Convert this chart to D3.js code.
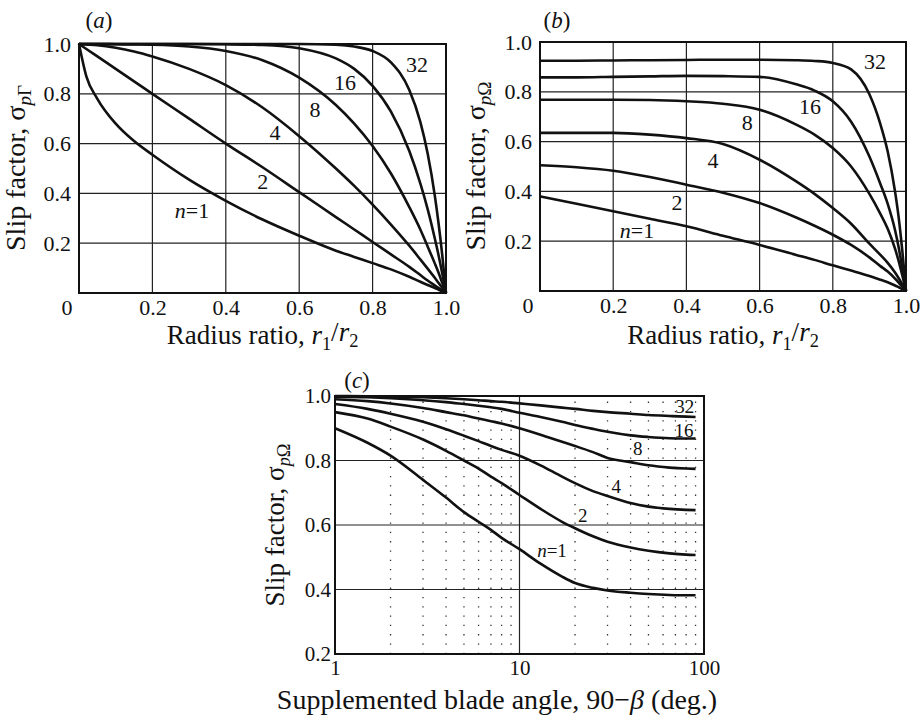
<!DOCTYPE html>
<html>
<head>
<meta charset="utf-8">
<script src="https://cdn.jsdelivr.net/npm/d3@7"></script>
<style>
  body { margin: 0; background: #fff; }
  svg { display: block; }
  text { font-family: "Liberation Serif", "Times New Roman", serif; fill: #111; }
</style>
</head>
<body>
<div id="chart"></div>
<script>
// blade counts
const nLabels = ["n=1", "2", "4", "8", "16", "32"];

// (a) slip factor sigma_pGamma vs radius ratio
const aX = [0, 0.02, 0.05, 0.1, 0.15, 0.2, 0.3, 0.4, 0.5, 0.6, 0.7, 0.75, 0.8, 0.85, 0.9, 0.93, 0.95, 0.97, 0.98, 0.99, 1.0];
const aN1 = [1, 0.87, 0.78, 0.68, 0.61, 0.555, 0.455, 0.37, 0.295, 0.23, 0.17, 0.145, 0.12, 0.095, 0.065, 0.045, 0.032, 0.02, 0.013, 0.006, 0];
const aN2 = [1, 0.98, 0.95, 0.9, 0.85, 0.8, 0.7, 0.6, 0.505, 0.405, 0.305, 0.255, 0.205, 0.155, 0.105, 0.072, 0.05, 0.03, 0.02, 0.01, 0];
const aN4 = [1, 0.998, 0.995, 0.985, 0.97, 0.95, 0.9, 0.835, 0.745, 0.63, 0.5, 0.43, 0.355, 0.275, 0.19, 0.135, 0.098, 0.06, 0.04, 0.02, 0];
const aN8 = [1, 1, 1, 0.999, 0.998, 0.997, 0.99, 0.972, 0.935, 0.865, 0.755, 0.68, 0.59, 0.48, 0.345, 0.255, 0.187, 0.117, 0.08, 0.04, 0];
const aN16 = [1, 1, 1, 1, 1, 1, 1, 0.999, 0.996, 0.983, 0.942, 0.9, 0.832, 0.728, 0.57, 0.44, 0.337, 0.216, 0.15, 0.077, 0];
const aN32 = [1, 1, 1, 1, 1, 1, 1, 1, 1, 1, 0.997, 0.99, 0.972, 0.926, 0.815, 0.687, 0.56, 0.386, 0.276, 0.149, 0];

// (b) slip factor sigma_pOmega vs radius ratio
const bX = [0, 0.1, 0.2, 0.3, 0.4, 0.5, 0.6, 0.7, 0.75, 0.8, 0.85, 0.9, 0.93, 0.95, 0.97, 0.98, 0.99, 1.0];
const bN1 = [0.38, 0.35, 0.32, 0.29, 0.26, 0.222, 0.185, 0.145, 0.125, 0.103, 0.082, 0.06, 0.045, 0.035, 0.022, 0.015, 0.008, 0];
const bN2 = [0.505, 0.497, 0.483, 0.458, 0.427, 0.395, 0.353, 0.295, 0.262, 0.226, 0.185, 0.135, 0.1, 0.078, 0.05, 0.034, 0.017, 0];
const bN4 = [0.635, 0.635, 0.635, 0.628, 0.614, 0.59, 0.527, 0.44, 0.39, 0.333, 0.27, 0.19, 0.145, 0.113, 0.074, 0.051, 0.026, 0];
const bN8 = [0.768, 0.768, 0.768, 0.767, 0.762, 0.752, 0.728, 0.668, 0.628, 0.574, 0.5, 0.39, 0.31, 0.25, 0.17, 0.12, 0.062, 0];
const bN16 = [0.858, 0.858, 0.86, 0.862, 0.864, 0.863, 0.86, 0.83, 0.805, 0.762, 0.68, 0.54, 0.43, 0.35, 0.245, 0.175, 0.09, 0];
const bN32 = [0.925, 0.925, 0.926, 0.927, 0.928, 0.929, 0.929, 0.927, 0.924, 0.916, 0.89, 0.79, 0.67, 0.56, 0.4, 0.295, 0.16, 0];

// (c) slip factor vs supplemented blade angle (deg)
const cX = [1, 1.5, 2, 3, 4, 5, 6, 7, 8, 10, 13, 17, 20, 25, 30, 40, 50, 65, 80, 90];
const cN1 = [0.9, 0.855, 0.815, 0.74, 0.685, 0.64, 0.61, 0.585, 0.56, 0.525, 0.48, 0.44, 0.42, 0.405, 0.397, 0.39, 0.386, 0.383, 0.382, 0.382];
const cN2 = [0.95, 0.93, 0.905, 0.865, 0.83, 0.8, 0.775, 0.75, 0.73, 0.693, 0.65, 0.61, 0.59, 0.565, 0.548, 0.53, 0.52, 0.512, 0.508, 0.507];
const cN4 = [0.975, 0.96, 0.945, 0.92, 0.897, 0.877, 0.86, 0.845, 0.833, 0.815, 0.785, 0.75, 0.73, 0.705, 0.69, 0.668, 0.657, 0.65, 0.647, 0.646];
const cN8 = [0.99, 0.984, 0.977, 0.963, 0.95, 0.94, 0.93, 0.922, 0.915, 0.9, 0.88, 0.858, 0.845, 0.826, 0.808, 0.795, 0.785, 0.778, 0.775, 0.774];
const cN16 = [0.998, 0.996, 0.993, 0.987, 0.981, 0.975, 0.97, 0.965, 0.96, 0.948, 0.935, 0.92, 0.91, 0.898, 0.889, 0.878, 0.873, 0.869, 0.868, 0.868];
const cN32 = [1, 0.999, 0.998, 0.996, 0.993, 0.99, 0.987, 0.984, 0.982, 0.977, 0.971, 0.964, 0.96, 0.954, 0.95, 0.945, 0.941, 0.938, 0.936, 0.935];

// ticks
const linTicks = [0.2, 0.4, 0.6, 0.8, 1.0];
const cXTicks = [1, 10, 100];
const cYTicks = [0.2, 0.4, 0.6, 0.8, 1.0];
const cMinor = [2, 3, 4, 5, 6, 7, 8, 9, 20, 30, 40, 50, 60, 70, 80, 90];

// where the curve labels sit (data coords)
const aLabelPos = [[0.308, 0.333], [0.501, 0.446], [0.534, 0.643], [0.643, 0.735], [0.725, 0.847], [0.921, 0.916]];
const bLabelPos = [[0.265, 0.245], [0.374, 0.357], [0.473, 0.526], [0.566, 0.675], [0.738, 0.739], [0.915, 0.92]];
const cLabelPos = [[15, 0.522], [22, 0.631], [33.5, 0.719], [43.7, 0.836], [78, 0.893], [78.7, 0.966]];

const W = 921, H = 719;
const svg = d3.select("#chart").append("svg")
    .attr("width", W)
    .attr("height", H);

const fmt = d3.format(".1f");

function addSub(sel, main, sub1, sub2) {
    sel.append("tspan").text(main);
    sel.append("tspan").attr("font-size", "0.68em").attr("font-style", "italic").attr("dy", "0.3em").text(sub1);
    sel.append("tspan").attr("font-size", "0.68em").text(sub2);
}

function drawPanel(opt) {
    const x = opt.x, y = opt.y;
    const g = svg.append("g");
    const [x0, x1] = x.range();
    const [y0, y1] = y.range();

    // grid
    g.selectAll(".vg").data(opt.vgrid).enter().append("line")
        .attr("x1", d => x(d)).attr("x2", d => x(d))
        .attr("y1", y0).attr("y2", y1)
        .attr("stroke", "#222").attr("stroke-width", 1.2);
    g.selectAll(".hg").data(opt.hgrid).enter().append("line")
        .attr("x1", x0).attr("x2", x1)
        .attr("y1", d => y(d)).attr("y2", d => y(d))
        .attr("stroke", "#222").attr("stroke-width", 1.2);
    if (opt.minor) {
        g.selectAll(".mg").data(opt.minor).enter().append("line")
            .attr("x1", d => x(d)).attr("x2", d => x(d))
            .attr("y1", y0).attr("y2", y1)
            .attr("stroke", "#333").attr("stroke-width", 1.3)
            .attr("stroke-dasharray", "1.3,8");
    }

    // curves
    const line = d3.line()
        .x(d => x(d[0]))
        .y(d => y(d[1]))
        .curve(d3.curveMonotoneX);
    opt.series.forEach(s => {
        g.append("path")
            .datum(opt.xs.map((v, i) => [v, s[i]]))
            .attr("d", line)
            .attr("fill", "none")
            .attr("stroke", "#111")
            .attr("stroke-width", 2.6)
            .attr("stroke-linejoin", "round");
    });

    // frame
    g.append("rect")
        .attr("x", x0).attr("y", y1)
        .attr("width", x1 - x0).attr("height", y0 - y1)
        .attr("fill", "none").attr("stroke", "#111").attr("stroke-width", 2);

    // curve labels
    opt.labelPos.forEach((p, i) => {
        const t = g.append("text")
            .attr("x", x(p[0])).attr("y", y(p[1]))
            .attr("text-anchor", "middle")
            .attr("dominant-baseline", "central")
            .attr("font-size", opt.labelSize);
        if (i === 0) {
            t.append("tspan").attr("font-style", "italic").text("n");
            t.append("tspan").text("=1");
        } else {
            t.text(nLabels[i]);
        }
    });

    // axes (labels only; grid drawn above)
    const ax = d3.axisBottom(x).tickValues(opt.xticks).tickSize(0).tickPadding(opt.xPad).tickFormat(opt.xfmt);
    const ay = d3.axisLeft(y).tickValues(opt.yticks).tickSize(0).tickPadding(opt.yPad).tickFormat(fmt);
    const gx = g.append("g").attr("transform", `translate(0,${y0})`).call(ax);
    const gy = g.append("g").attr("transform", `translate(${x0},0)`).call(ay);
    [gx, gy].forEach(a => {
        a.select(".domain").remove();
        a.selectAll("text")
            .attr("font-family", "Liberation Serif, serif")
            .attr("font-size", opt.tickSize)
            .attr("fill", "#111");
    });
    return g;
}

// ---------- panel (a)
const xa = d3.scaleLinear().domain([0, 1]).range([79, 446]);
const ya = d3.scaleLinear().domain([0, 1]).range([293, 44]);
drawPanel({
    x: xa, y: ya, xs: aX,
    series: [aN1, aN2, aN4, aN8, aN16, aN32],
    vgrid: [0.2, 0.4, 0.6, 0.8], hgrid: [0.2, 0.4, 0.6, 0.8],
    xticks: linTicks, yticks: linTicks, xfmt: fmt,
    labelPos: aLabelPos, labelSize: 22, tickSize: 22, xPad: 6, yPad: 8
});

// ---------- panel (b)
const xb = d3.scaleLinear().domain([0, 1]).range([540, 906]);
const yb = d3.scaleLinear().domain([0, 1]).range([291, 42]);
drawPanel({
    x: xb, y: yb, xs: bX,
    series: [bN1, bN2, bN4, bN8, bN16, bN32],
    vgrid: [0.2, 0.4, 0.6, 0.8], hgrid: [0.2, 0.4, 0.6, 0.8],
    xticks: linTicks, yticks: linTicks, xfmt: fmt,
    labelPos: bLabelPos, labelSize: 22, tickSize: 22, xPad: 6, yPad: 8
});

// ---------- panel (c)
const xc = d3.scaleLog().domain([1, 100]).range([335, 704]);
const yc = d3.scaleLinear().domain([0.2, 1]).range([654, 396]);
drawPanel({
    x: xc, y: yc, xs: cX,
    series: [cN1, cN2, cN4, cN8, cN16, cN32],
    vgrid: [10], hgrid: [0.4, 0.6, 0.8], minor: cMinor,
    xticks: cXTicks, yticks: cYTicks, xfmt: d3.format("d"),
    labelPos: cLabelPos, labelSize: 19, tickSize: 21, xPad: 6, yPad: 4
});

// corner zeros for (a) and (b)
[[xa, ya], [xb, yb]].forEach(([x, y]) => {
    svg.append("text")
        .attr("x", x(0) - 12).attr("y", y(0) + 22)
        .attr("text-anchor", "middle")
        .attr("font-size", 22)
        .text("0");
});

// panel tags
[["a", 99, 28], ["b", 557, 28], ["c", 357, 388]].forEach(([k, px, py]) => {
    const t = svg.append("text").attr("x", px).attr("y", py)
        .attr("text-anchor", "middle").attr("font-size", 23);
    t.append("tspan").text("(");
    t.append("tspan").attr("font-style", "italic").text(k);
    t.append("tspan").text(")");
});

// x titles
[xa, xb].forEach(x => {
    const t = svg.append("text")
        .attr("x", (x.range()[0] + x.range()[1]) / 2)
        .attr("y", 344)
        .attr("text-anchor", "middle")
        .attr("font-size", 27);
    t.append("tspan").text("Radius ratio, ");
    t.append("tspan").attr("font-style", "italic").text("r");
    t.append("tspan").attr("font-size", "0.68em").attr("dy", "0.3em").text("1");
    t.append("tspan").attr("dy", "-0.3em").text("/");
    t.append("tspan").attr("font-style", "italic").text("r");
    t.append("tspan").attr("font-size", "0.68em").attr("dy", "0.3em").text("2");
});

const tc = svg.append("text")
    .attr("x", 497).attr("y", 709)
    .attr("text-anchor", "middle")
    .attr("font-size", 28);
tc.append("tspan").text("Supplemented blade angle, 90\u2212");
tc.append("tspan").attr("font-style", "italic").text("\u03b2");
tc.append("tspan").text(" (deg.)");

// y titles
[[25, 168, "\u0393", 28], [485, 166, "\u03a9", 28], [284, 525, "\u03a9", 27]].forEach(([px, py, sym, fs]) => {
    const t = svg.append("text")
        .attr("transform", `translate(${px},${py}) rotate(-90)`)
        .attr("text-anchor", "middle")
        .attr("font-size", fs);
    addSub(t, "Slip factor, \u03c3", "p", sym);
});
</script>
</body>
</html>
